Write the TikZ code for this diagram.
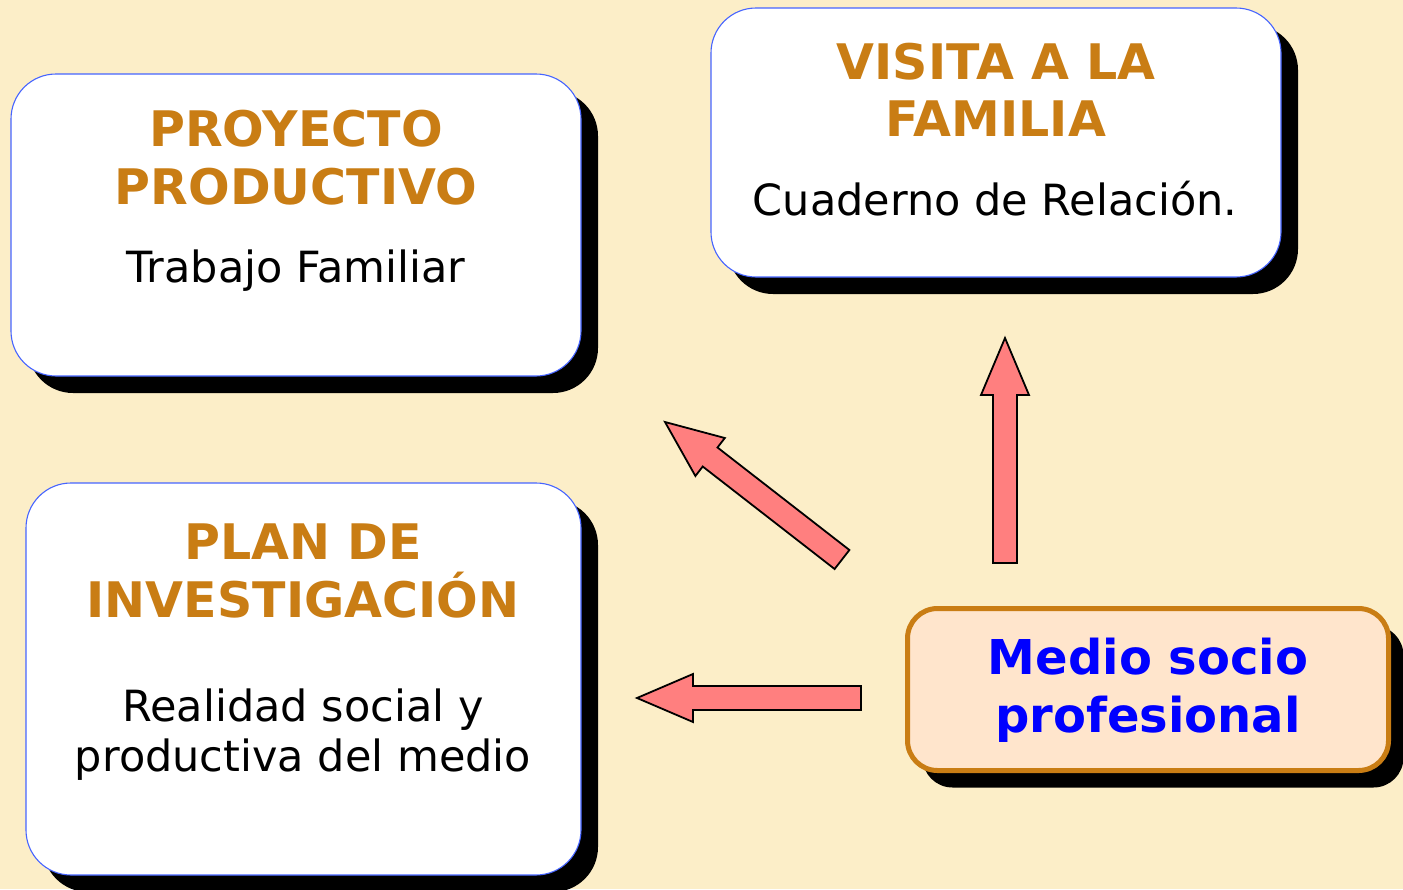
\documentclass[tikz,border=0pt]{standalone}
\usepackage{fontspec}
\setmainfont{DejaVu Sans}
\usetikzlibrary{shadows}
\definecolor{bgc}{RGB}{252,238,200}
\definecolor{orng}{RGB}{201,125,20}
\definecolor{bordblue}{RGB}{70,100,255}
\definecolor{peach}{RGB}{255,229,204}
\definecolor{arrowred}{RGB}{255,127,127}
\definecolor{txtblue}{RGB}{0,0,255}
\tikzset{
  bigbox/.style={draw=bordblue, line width=1.1pt, fill=white, rounded corners=45pt,
    inner sep=0pt, drop shadow={shadow xshift=17pt, shadow yshift=-17pt, fill=black, opacity=1}},
  medbox/.style={draw=orng, line width=5pt, fill=peach, rounded corners=30pt,
    inner sep=0pt, drop shadow={shadow xshift=15pt, shadow yshift=-17pt, fill=black, opacity=1}},
  ttl/.style={anchor=base, inner sep=0pt, text=orng, font=\fontsize{49}{58}\selectfont\bfseries},
  body/.style={anchor=base, inner sep=0pt, text=black, font=\fontsize{43}{50}\selectfont},
  btl/.style={anchor=base, inner sep=0pt, text=txtblue, font=\fontsize{48}{58}\selectfont\bfseries},
  blockarrow/.style={draw=black, line width=1.8pt, fill=arrowred, line join=miter}
}
\begin{document}
\begin{tikzpicture}[x=1pt,y=-1pt]
\fill[bgc] (0,0) rectangle (1403,889);
\useasboundingbox (0,0) rectangle (1403,889);

% boxes
\node[bigbox, minimum width=570pt, minimum height=302pt] (b1) at (296,225) {};
\node[bigbox, minimum width=570pt, minimum height=269pt] (b2) at (996,142.5) {};
\node[bigbox, minimum width=555pt, minimum height=392pt] (b3) at (303.5,679) {};
\node[medbox, minimum width=481pt, minimum height=162pt] (b4) at (1148,689.5) {};

% texts box 1
\node[ttl] (t1a) at (296,146) {PROYECTO};
\node[ttl] (t1b) at (296,204) {PRODUCTIVO};
\node[body] (t1c) at (296,282) {Trabajo Familiar};

% texts box 2
\node[ttl] (t2a) at (996,79) {VISITA A LA};
\node[ttl] (t2b) at (996,136) {FAMILIA};
\node[body] (t2c) at (995,215) {Cuaderno de Relación.};

% texts box 3
\node[ttl] (t3a) at (303,559) {PLAN DE};
\node[ttl] (t3b) at (303,617) {INVESTIGACIÓN};
\node[body] (t3c) at (303,721) {Realidad social y};
\node[body] (t3d) at (303,771) {productiva del medio};

% texts box 4
\node[btl] (t4a) at (1148,674) {Medio socio};
\node[btl] (t4b) at (1148,732) {profesional};

% arrows
\draw[blockarrow] (993,563) -- (993,395) -- (981,395) -- (1005,338) -- (1029,395)
  -- (1017,395) -- (1017,563) -- cycle;
\draw[blockarrow] (861,686) -- (693,686) -- (693,674) -- (637,698) -- (693,722)
  -- (693,710) -- (861,710) -- cycle;
\draw[blockarrow] (849.4,550.0) -- (717.5,447.5) -- (724.8,438.0) -- (665,422)
  -- (695.4,476.0) -- (702.7,466.5) -- (834.6,569.0) -- cycle;
\end{tikzpicture}
\end{document}
